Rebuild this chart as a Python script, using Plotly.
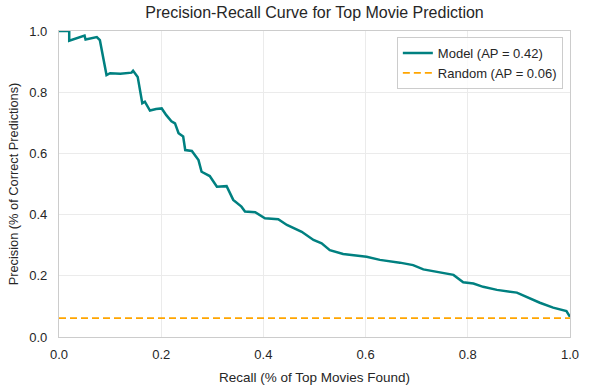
import plotly.graph_objects as go

recall = [0.0, 0.02, 0.02, 0.05, 0.052, 0.074, 0.08, 0.087, 0.088, 0.093,
          0.10, 0.12, 0.142, 0.145, 0.154, 0.163, 0.168, 0.178, 0.19, 0.201,
          0.21, 0.22, 0.227, 0.234, 0.243, 0.247, 0.26, 0.273, 0.279, 0.295,
          0.309, 0.328, 0.341, 0.357, 0.364, 0.384, 0.403, 0.429, 0.446, 0.475,
          0.498, 0.514, 0.53, 0.556, 0.602, 0.628, 0.667, 0.693, 0.713, 0.746,
          0.772, 0.791, 0.811, 0.83, 0.857, 0.896, 0.915, 0.941, 0.967, 0.993,
          1.0]
precision = [1.0, 1.0, 0.968, 0.985, 0.972, 0.98, 0.97, 0.91, 0.90, 0.856,
             0.862, 0.86, 0.864, 0.87, 0.85, 0.764, 0.769, 0.74, 0.745, 0.747,
             0.725, 0.705, 0.698, 0.666, 0.655, 0.611, 0.608, 0.578, 0.54, 0.526,
             0.491, 0.493, 0.448, 0.426, 0.41, 0.408, 0.388, 0.385, 0.366, 0.344,
             0.317, 0.306, 0.284, 0.271, 0.262, 0.252, 0.243, 0.235, 0.221, 0.21,
             0.203, 0.179, 0.175, 0.164, 0.154, 0.145, 0.13, 0.112, 0.096, 0.085,
             0.066]
random_x = [0.0, 1.0]
random_y = [0.062, 0.062]
ticks = [0.0, 0.2, 0.4, 0.6, 0.8, 1.0]

font = "Liberation Sans, Arial, sans-serif"
fig = go.Figure()
fig.add_trace(go.Scatter(x=recall, y=precision, mode="lines", name="Model (AP = 0.42)",
                         line=dict(color="#008080", width=2.5)))
fig.add_trace(go.Scatter(x=random_x, y=random_y, mode="lines", name="Random (AP = 0.06)",
                         line=dict(color="#FFA500", width=1.8, dash="7px,4px")))

axis_common = dict(range=[0, 1], tickvals=ticks, tickformat=".1f", automargin=False,
                   showgrid=True, gridcolor="#ebebeb", gridwidth=1,
                   showline=True, linecolor="#cccccc", linewidth=1.3, mirror=True,
                   zeroline=False, ticks="", tickfont=dict(size=13, color="#262626"))
fig.update_xaxes(title_text="Recall (% of Top Movies Found)", title_standoff=11,
                 title_font=dict(size=13.5, color="#262626"),
                 ticklabelstandoff=5, **axis_common)
fig.update_yaxes(title_text="Precision (% of Correct Predictions)", title_standoff=7,
                 title_font=dict(size=12.8, color="#262626"),
                 ticklabelstandoff=8, **axis_common)

fig.update_layout(
    width=589, height=390,
    margin=dict(l=59, r=19, t=31, b=53),
    paper_bgcolor="white", plot_bgcolor="white",
    font=dict(family=font, color="#262626"),
    title=dict(text="Precision-Recall Curve for Top Movie Prediction",
               x=(59 + 570) / 2 / 589, xanchor="center", y=1 - 12.5 / 390, yanchor="middle",
               font=dict(size=16, color="#262626")),
    legend=dict(x=0.986, y=0.98, xanchor="right", yanchor="top",
                bgcolor="rgba(255,255,255,0.8)", bordercolor="#cccccc", borderwidth=1,
                font=dict(size=13, color="#262626"), tracegroupgap=0),
    showlegend=True,
)
fig.write_html("out.html", config={"displayModeBar": False},
               post_script="document.body.style.margin='0';")
